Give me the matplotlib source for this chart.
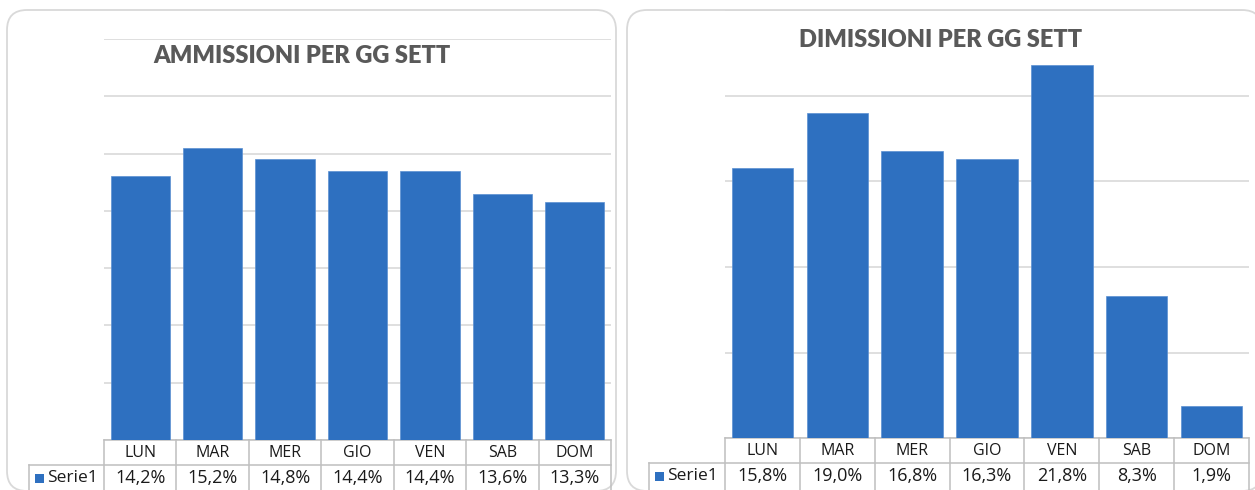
import numpy as np
import matplotlib.pyplot as plt
from matplotlib.patches import FancyBboxPatch, Rectangle
from matplotlib.lines import Line2D
import matplotlib.transforms as mtransforms

# dati: percentuali per giorno della settimana
giorni = ["LUN", "MAR", "MER", "GIO", "VEN", "SAB", "DOM"]
ammissioni = [0.142, 0.152, 0.148, 0.144, 0.144, 0.136, 0.133]
dimissioni = [0.158, 0.190, 0.168, 0.163, 0.218, 0.083, 0.019]
serie_nome = "Serie1"

W, H = 1255, 490
BLU = "#2e70c0"
GRIGIO_TITOLO = "#595959"
GRIGIO_GRIGLIA = "#d9d9d9"
GRIGIO_TABELLA = "#bfbfbf"
TESTO = "#1a1a1a"
FONT = "Lato"
FONT_TAB = "Open Sans"

fig = plt.figure(figsize=(W / 100, H / 100), dpi=100)
pollici = fig.dpi_scale_trans


# coordinate in pixel (origine in alto a sinistra) -> pollici
def yi(y):
    return (H - y) / 100


def cornice(x0, y0, x1, y1):
    box = FancyBboxPatch((x0 / 100, yi(y1)), (x1 - x0) / 100, (y1 - y0) / 100,
                         boxstyle="round,pad=0,rounding_size=0.2",
                         transform=pollici, facecolor="white",
                         edgecolor="#d9d9d9", lw=1.3, zorder=0)
    fig.add_artist(box)


def pannello(x0, x1, y_top, y_base, valori, ymin, ymax, passo, label_x,
             titolo, tx, ty):
    ax = fig.add_axes([x0 / W, (H - y_base) / H, (x1 - x0) / W, (y_base - y_top) / H])
    ax.set_facecolor("none")
    pos = np.arange(len(giorni))
    ax.bar(pos, valori, width=0.82, color=BLU, edgecolor="#5a8fd2", lw=0.5, zorder=3)
    ax.set_xlim(-0.5, len(giorni) - 0.5)
    ax.set_ylim(ymin, ymax)
    ax.set_yticks(np.arange(ymin, ymax + 1e-9, passo))
    ax.grid(axis="y", color=GRIGIO_GRIGLIA, lw=1.2)
    ax.set_axisbelow(True)
    ax.tick_params(left=False, bottom=False, labelleft=False, labelbottom=False)
    for s in ax.spines.values():
        s.set_visible(False)

    fig.text(tx / W, 1 - ty / H, titolo, ha="center", va="center",
             fontsize=17, fontweight="heavy", color=GRIGIO_TITOLO, family=FONT)

    # tabella dati sotto il grafico
    tr = mtransforms.blended_transform_factory(ax.transData, pollici)
    col = (x1 - x0) / len(giorni)
    sx = -0.5 + (label_x - x0) / col
    dx = len(giorni) - 0.5
    r0, r1, r2 = y_base, y_base + 25, y_base + 53

    def linea(xs, ys):
        ax.add_line(Line2D(xs, [yi(v) for v in ys], transform=tr,
                           color=GRIGIO_TABELLA, lw=1.1, clip_on=False))

    linea([-0.5, dx], [r0, r0])
    linea([sx, dx], [r1, r1])
    linea([sx, dx], [r2, r2])
    linea([sx, sx], [r1, r2])
    for i in range(len(giorni) + 1):
        linea([i - 0.5, i - 0.5], [r0, r2])

    rv = r1 + 13
    for i, (g, v) in enumerate(zip(giorni, valori)):
        ax.text(i, yi((r0 + r1) / 2), g, transform=tr, ha="center", va="center",
                fontsize=11.5, color=TESTO, family=FONT_TAB)
        ax.text(i, yi(rv), f"{v * 100:.1f}%".replace(".", ","),
                transform=tr, ha="center", va="center", fontsize=13,
                color=TESTO, family=FONT_TAB)

    fig.add_artist(Rectangle(((label_x + 6) / 100, yi(rv + 4.5)), 0.09, 0.09,
                             transform=pollici, facecolor=BLU, edgecolor="none"))
    fig.text((label_x + 18) / W, 1 - rv / H, serie_nome,
             ha="left", va="center", fontsize=12.5, color=TESTO, family=FONT_TAB)
    return ax


cornice(7, 10, 616, 491)
cornice(627, 10, 1262, 491)

pannello(104, 611, 39, 440, ammissioni, 0.05, 0.19, 0.02, 29,
         "AMMISSIONI PER GG SETT", 302, 56)
pannello(725, 1249, 10.5, 438, dimissioni, 0.0, 0.25, 0.05, 649,
         "DIMISSIONI PER GG SETT", 941, 40)

fig.savefig("out.png", dpi=100)
